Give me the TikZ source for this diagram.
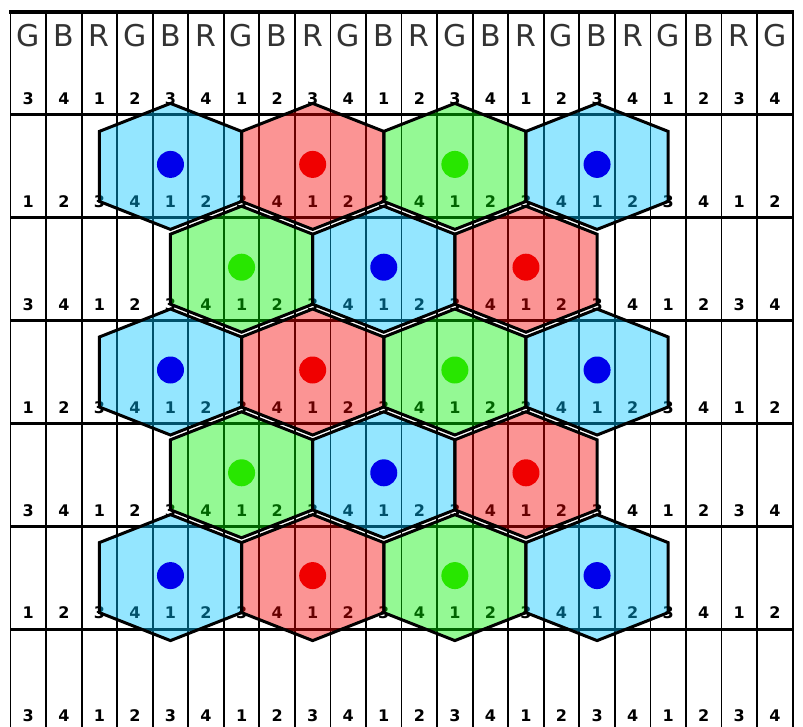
\documentclass[tikz,border=0pt]{standalone}
\usepackage{fontspec}
\setmainfont{DejaVu Sans}
\usetikzlibrary{calc}
\definecolor{hexblue}{RGB}{0,195,255}
\definecolor{hexred}{RGB}{245,0,0}
\definecolor{hexgreen}{RGB}{0,240,0}
\definecolor{dotblue}{RGB}{0,0,235}
\definecolor{dotred}{RGB}{240,0,0}
\definecolor{dotgreen}{RGB}{40,230,0}

\begin{document}
\begin{tikzpicture}[
    x=1pt, y=-1pt,
    gridline/.style={draw=black, line width=1.8pt},
    rowline/.style={draw=black, line width=3pt},
    colletter/.style={font=\fontsize{30}{30}\selectfont, text=black!80, inner sep=0pt},
    cellnum/.style={font=\fontsize{16}{16}\selectfont\bfseries, inner sep=0pt},
    hexfill/.style={fill=#1, fill opacity=0.42},
    hexrim/.style={draw=black, line width=3pt, line join=miter},
    hexdot/.style={circle, fill=#1, minimum size=27pt, inner sep=0pt}
]
\def\W{35.55}
\def\H{102.8}
\def\X{10.5}
\def\Y{12.2}
\useasboundingbox (0,0) rectangle (803,727);
\clip (0,0) rectangle (803,727);

%% Column stripes and row bands
\foreach \k in {0,...,22}
  \draw[gridline] ({\X+\k*\W},\Y) -- ({\X+\k*\W},745);
\foreach \r in {1,...,6}
  \draw[rowline] (\X,{\Y+\r*\H}) -- ({\X+22*\W},{\Y+\r*\H});
\draw[draw=black, line width=3.5pt] (\X-1.5,\Y) -- ({\X+22*\W+1.5},\Y);

%% Stripe letters on top
\foreach \c in {0,...,21}{
  \pgfmathtruncatemacro\m{mod(\c,3)}
  \node[colletter] (lbl-\c) at ({\X+(\c+0.5)*\W},36) {\ifcase\m G\or B\or R\fi};
}

%% Sub-column numbers, shifted by two on every other band
\foreach \r in {0,...,6}{
  \foreach \c in {0,...,21}{
    \pgfmathtruncatemacro\v{mod(\c+2*\r+2,4)+1}
    \node[cellnum] (num-\r-\c) at ({\X+(\c+0.5)*\W},{\Y+(\r+1)*\H-16}) {\v};
  }
}

%% Hexagonal cells: row / centre column / colour
\def\cells{1/4/blue, 1/8/red, 1/12/green, 1/16/blue,
           2/6/green, 2/10/blue, 2/14/red,
           3/4/blue, 3/8/red, 3/12/green, 3/16/blue,
           4/6/green, 4/10/blue, 4/14/red,
           5/4/blue, 5/8/red, 5/12/green, 5/16/blue}

\foreach \r/\c/\col in \cells
  \coordinate (hex-\r-\c) at ({\X+(\c+0.5)*\W},{\Y+(\r+0.5)*\H});

\foreach \r/\c/\col in \cells
  \path[hexfill=hex\col, shift={(hex-\r-\c)}]
    (0,-63) -- (71.1,-35) -- (71.1,35) -- (0,63) -- (-71.1,35) -- (-71.1,-35) -- cycle;

\foreach \r/\c/\col in \cells
  \draw[hexrim, shift={(hex-\r-\c)}]
    (0,-63) -- (71.1,-35) -- (71.1,35) -- (0,63) -- (-71.1,35) -- (-71.1,-35) -- cycle;

\foreach \r/\c/\col in \cells
  \node[hexdot=dot\col] (dot-\r-\c) at ($(hex-\r-\c)+(0,-2)$) {};

\end{tikzpicture}
\end{document}
